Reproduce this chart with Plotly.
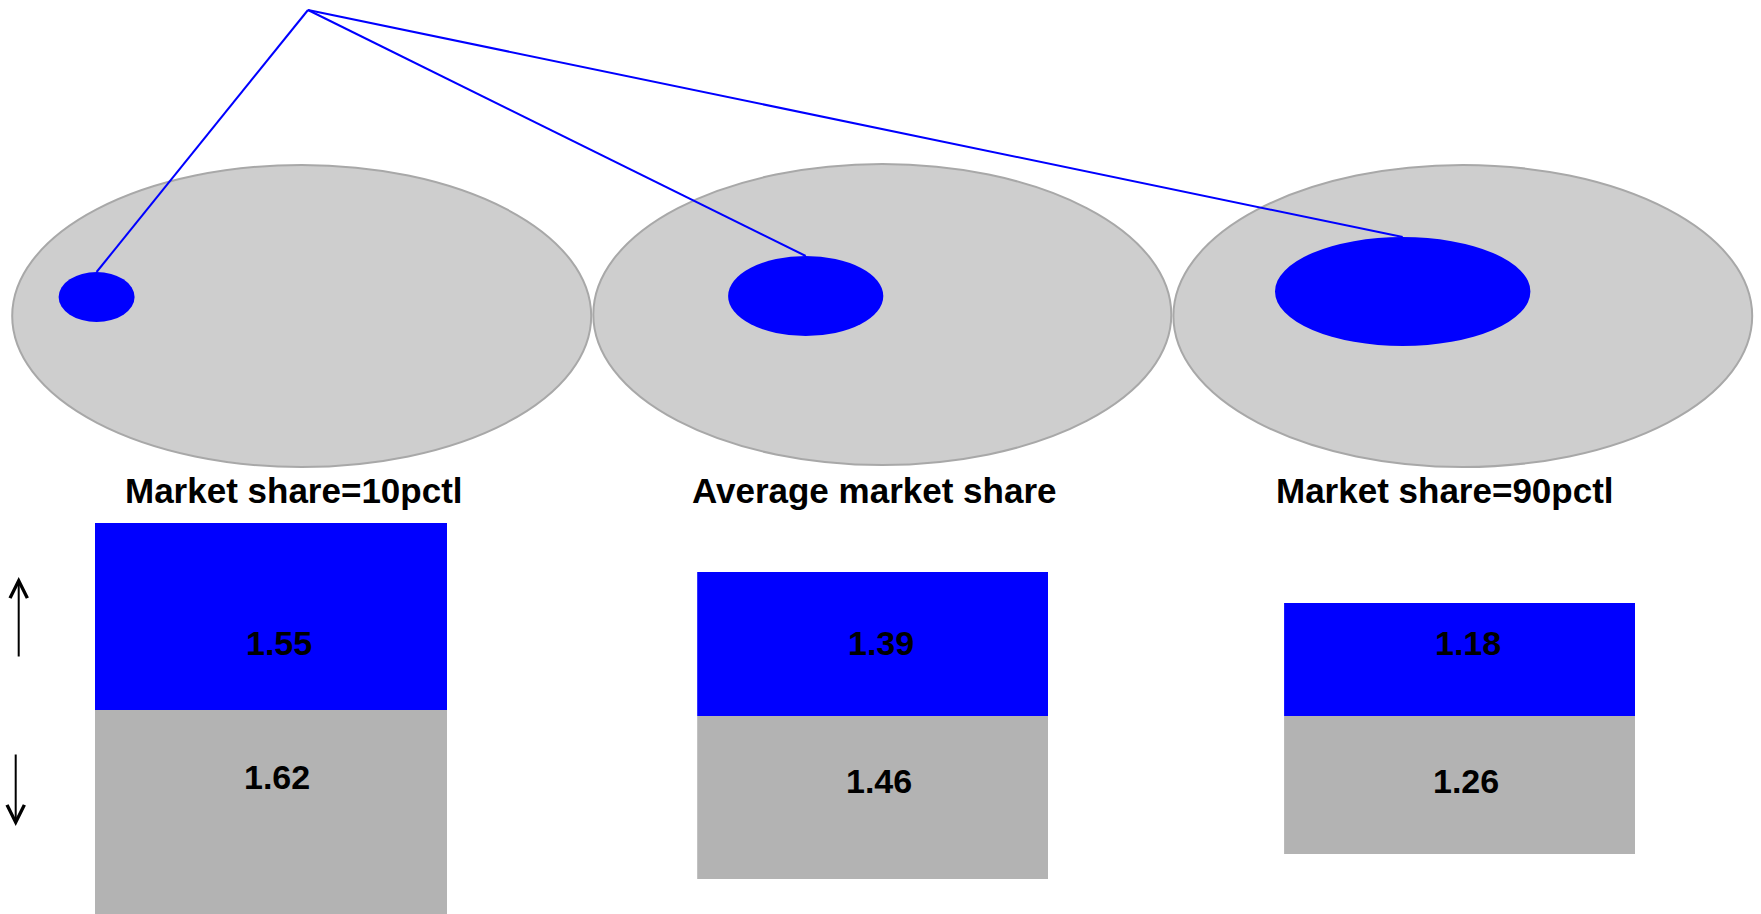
import plotly.graph_objects as go

# ---------------- data ----------------
panel_labels = ["Market share=10pctl", "Average market share", "Market share=90pctl"]
up_values = [1.55, 1.39, 1.18]
down_values = [1.62, 1.46, 1.26]

# ---------------- styling / layout geometry (pixels) ----------------
W, H = 1761, 914
BLUE = "#0000FF"
GRAY_BAR = "#B3B3B3"
GRAY_FILL = "#CECECE"
GRAY_EDGE = "#A8A8A8"
FONT = "Liberation Sans, Arial, sans-serif"

bar_x = [(94.9, 447.0), (697.2, 1048.5), (1284.1, 1635.4)]
bar_top = [523, 572, 603]
bar_zero = [710, 716, 716]
bar_bottom = [914, 879, 854]
title_cx = [293.7, 873.8, 1444.7]
title_cy = 490
up_label_y = [643, 643, 643]
down_label_y = [777, 781, 781]
label_xshift = [8, 8, 8]

# diagram: outer (market) ellipses and inner (firm) ellipses: cx, cy, rx, ry
outer = [(301.7, 316, 289.5, 151), (882.3, 314.5, 289.0, 150.5), (1462.8, 316, 289.4, 151)]
inner = [(96.6, 297, 38, 25), (805.7, 296, 77.6, 40), (1402.7, 291.5, 127.7, 54.5)]
apex = (308, 10)

fig = go.Figure()

# connecting lines from the apex to each inner ellipse
lx, ly = [], []
for cx, cy, rx, ry in inner:
    lx += [apex[0], cx, None]
    ly += [apex[1], cy - ry, None]
fig.add_trace(go.Scatter(x=lx, y=ly, mode="lines", line=dict(color=BLUE, width=2),
                         hoverinfo="skip", showlegend=False, xaxis="x", yaxis="y"))

layout = dict(
    width=W, height=H, margin=dict(l=0, r=0, t=0, b=0),
    paper_bgcolor="white", plot_bgcolor="rgba(0,0,0,0)", showlegend=False,
    xaxis=dict(domain=[0, 1], range=[0, W], visible=False, fixedrange=True),
    yaxis=dict(domain=[0, 1], range=[H, 0], visible=False, fixedrange=True),
)

shapes = []
for cx, cy, rx, ry in outer:
    shapes.append(dict(type="circle", xref="x", yref="y", x0=cx - rx, x1=cx + rx,
                       y0=cy - ry, y1=cy + ry, fillcolor=GRAY_FILL,
                       line=dict(color=GRAY_EDGE, width=2), layer="below"))
for cx, cy, rx, ry in inner:
    shapes.append(dict(type="circle", xref="x", yref="y", x0=cx - rx, x1=cx + rx,
                       y0=cy - ry, y1=cy + ry, fillcolor=BLUE,
                       line=dict(color=BLUE, width=0), layer="below"))

annotations = []
for i in range(3):
    k = i + 2          # x axis / blue y axis index
    g = i + 5          # gray y axis index
    x0, x1 = bar_x[i]
    layout[f"xaxis{k}"] = dict(domain=[x0 / W, x1 / W], range=[-0.5, 0.5], anchor=f"y{k}",
                               visible=False, fixedrange=True)
    layout[f"yaxis{k}"] = dict(domain=[1 - bar_zero[i] / H, 1 - bar_top[i] / H],
                               range=[0, up_values[i]], anchor=f"x{k}",
                               visible=False, fixedrange=True)
    layout[f"yaxis{g}"] = dict(domain=[max(0, 1 - bar_bottom[i] / H), 1 - bar_zero[i] / H],
                               range=[-down_values[i], 0], anchor=f"x{k}",
                               visible=False, fixedrange=True)
    fig.add_trace(go.Bar(x=[0], y=[up_values[i]], width=1, marker=dict(color=BLUE, line=dict(width=0)),
                         xaxis=f"x{k}", yaxis=f"y{k}", hoverinfo="skip"))
    fig.add_trace(go.Bar(x=[0], y=[-down_values[i]], width=1, marker=dict(color=GRAY_BAR, line=dict(width=0)),
                         xaxis=f"x{k}", yaxis=f"y{g}", hoverinfo="skip"))
    # panel title
    annotations.append(dict(text=panel_labels[i], xref="x", yref="y", x=title_cx[i], y=title_cy,
                            showarrow=False, xanchor="center", yanchor="middle",
                            font=dict(family=FONT, size=35, color="black", weight="bold")))
    # value labels
    annotations.append(dict(text=f"{up_values[i]:.2f}", xref=f"x{k}", yref="y", x=0, y=up_label_y[i],
                            xshift=label_xshift[i], showarrow=False, xanchor="center", yanchor="middle",
                            font=dict(family=FONT, size=34, color="black", weight="bold")))
    annotations.append(dict(text=f"{down_values[i]:.2f}", xref=f"x{k}", yref="y", x=0, y=down_label_y[i],
                            xshift=label_xshift[i] - 1.5, showarrow=False, xanchor="center", yanchor="middle",
                            font=dict(family=FONT, size=34, color="black", weight="bold")))

# up / down arrows at the left
annotations.append(dict(text="", xref="x", yref="y", axref="x", ayref="y",
                        x=18.7, y=577, ax=18.7, ay=658, showarrow=True,
                        arrowhead=5, arrowsize=1.7, arrowwidth=2, arrowcolor="black"))
annotations.append(dict(text="", xref="x", yref="y", axref="x", ayref="y",
                        x=15.7, y=826, ax=15.7, ay=753, showarrow=True,
                        arrowhead=5, arrowsize=1.7, arrowwidth=2, arrowcolor="black"))

layout["shapes"] = shapes
layout["annotations"] = annotations
layout["bargap"] = 0
fig.update_layout(**layout)

fig.write_html("out.html")
